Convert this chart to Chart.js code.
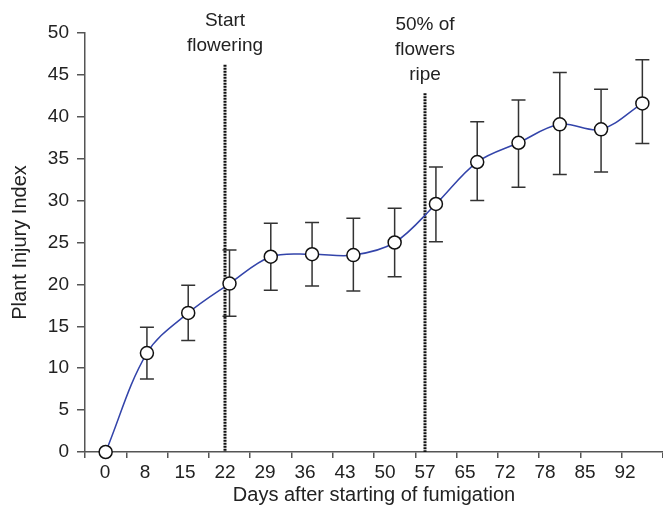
<!DOCTYPE html>
<html>
<head>
<meta charset="utf-8">
<script src="https://cdn.jsdelivr.net/npm/chart.js@4"></script>
<style>
  html, body { margin: 0; padding: 0; background: #fff; }
  #wrap { width: 663px; height: 517px; }
</style>
</head>
<body>
<div id="wrap"><canvas id="injuryChart" width="663" height="517"></canvas></div>
<script>
// Days after fumigation (tick labels)
const dayLabels = ['0', '8', '15', '22', '29', '36', '43', '50', '57', '65', '72', '78', '85', '92'];
// Mean plant injury index
const injury = [0, 11.8, 16.6, 20.1, 23.3, 23.6, 23.5, 25.0, 29.6, 34.6, 36.9, 39.1, 38.5, 41.6];
// Error bar ends
const errLow  = [0, 8.7, 13.3, 16.2, 19.3, 19.8, 19.2, 20.9, 25.1, 30.0, 31.6, 33.1, 33.4, 36.8];
const errHigh = [0, 14.9, 19.9, 24.1, 27.3, 27.4, 27.9, 29.1, 34.0, 39.4, 42.0, 45.3, 43.3, 46.8];

// Stage markers (vertical dotted lines)
const stageDays = ['22', '57'];
const stageTop = [46.2, 42.8];
const stageText = [['Start', 'flowering'], ['50% of', 'flowers', 'ripe']];

const FONT = "'Liberation Sans', Arial, sans-serif";
const AXIS = '#555';

// error bars drawn under the line and the circles
const errorBars = {
  id: 'errorBars',
  beforeDatasetsDraw(chart) {
    const { ctx, scales: { x, y } } = chart;
    ctx.save();
    ctx.strokeStyle = '#333';
    ctx.lineWidth = 1.5;
    injury.forEach((v, i) => {
      if (errLow[i] === errHigh[i]) return;
      const px = x.getPixelForValue(i);
      const top = y.getPixelForValue(errHigh[i]);
      const bot = y.getPixelForValue(errLow[i]);
      ctx.beginPath();
      ctx.moveTo(px, top); ctx.lineTo(px, bot);
      ctx.moveTo(px - 7, top); ctx.lineTo(px + 7, top);
      ctx.moveTo(px - 7, bot); ctx.lineTo(px + 7, bot);
      ctx.stroke();
    });
    ctx.restore();
  }
};

// dotted stage lines with their captions
const stageLines = {
  id: 'stageLines',
  beforeDatasetsDraw(chart) {
    const { ctx, scales: { x2, y } } = chart;
    ctx.save();
    stageDays.forEach((d, k) => {
      const px = x2.getPixelForValue(dayLabels.indexOf(d));
      const top = y.getPixelForValue(stageTop[k]);
      ctx.strokeStyle = '#111';
      ctx.lineWidth = 3;
      ctx.setLineDash([2, 1]);
      ctx.beginPath();
      ctx.moveTo(px, top);
      ctx.lineTo(px, y.getPixelForValue(0));
      ctx.stroke();
      ctx.setLineDash([]);
      ctx.fillStyle = '#222';
      ctx.font = '19px ' + FONT;
      ctx.textAlign = 'center';
      ctx.textBaseline = 'middle';
      const lines = stageText[k];
      lines.forEach((t, j) => {
        ctx.fillText(t, px, top - 19 - (lines.length - 1 - j) * 25);
      });
    });
    ctx.restore();
  }
};

new Chart(document.getElementById('injuryChart'), {
  type: 'line',
  data: {
    labels: dayLabels,
    datasets: [{
      data: injury,
      borderColor: '#3344aa',
      borderWidth: 1.5,
      tension: 0.35,
      pointRadius: 6.5,
      pointBackgroundColor: '#fff',
      pointBorderColor: '#111',
      pointBorderWidth: 1.5,
      clip: false
    }]
  },
  options: {
    responsive: false,
    animation: false,
    layout: { autoPadding: false, padding: { top: 33, right: 0, left: 0, bottom: 0 } },
    plugins: { legend: { display: false }, tooltip: { enabled: false } },
    scales: {
      x: {
        type: 'category',
        offset: true,
        weight: 0,
        grid: {
          offset: true,
          drawOnChartArea: false,
          tickLength: 6,
          lineWidth: 1.5,
          // no tick mark at the far right end of the axis
          color: c => (c.index === dayLabels.length ? 'rgba(0,0,0,0)' : AXIS)
        },
        border: { color: AXIS, width: 1.5 },
        ticks: { display: false },
        afterFit(s) { s.height = 6; s.paddingLeft = 0; s.paddingRight = 0; }
      },
      x2: {
        type: 'linear',
        position: 'bottom',
        weight: 1,
        min: -0.5,
        max: 13.95,
        grid: { display: false, drawTicks: false, tickLength: 0 },
        border: { display: false },
        afterBuildTicks(s) { s.ticks = dayLabels.map((_, i) => ({ value: i })); },
        ticks: {
          autoSkip: false,
          maxRotation: 0,
          padding: 3,
          color: '#222',
          font: { family: FONT, size: 19 },
          callback: v => dayLabels[v]
        },
        title: {
          display: true,
          text: 'Days after starting of fumigation',
          color: '#222',
          font: { family: FONT, size: 20 },
          padding: { top: 0, bottom: 10 }
        },
        afterFit(s) { s.height = 59; s.paddingLeft = 0; s.paddingRight = 0; }
      },
      y: {
        min: 0,
        max: 50,
        ticks: { stepSize: 5, padding: 8, color: '#222', font: { family: FONT, size: 19 } },
        grid: { drawOnChartArea: false, tickLength: 8, color: AXIS, lineWidth: 1.5 },
        border: { color: AXIS, width: 1.5 },
        title: {
          display: true,
          text: 'Plant Injury Index',
          color: '#222',
          font: { family: FONT, size: 20 },
          padding: { top: 8, bottom: 0 }
        },
        afterFit(s) { s.width = 85; }
      }
    }
  },
  plugins: [errorBars, stageLines]
});
</script>
</body>
</html>
